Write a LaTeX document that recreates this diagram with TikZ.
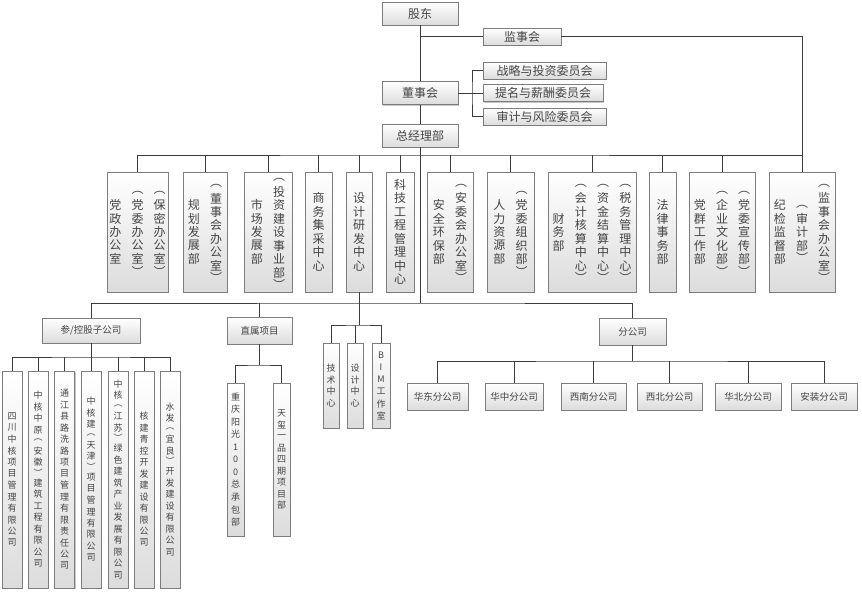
\documentclass[tikz,border=0pt]{standalone}
\usepackage{fontspec}
\setmainfont{Noto Sans CJK SC}
\usetikzlibrary{shadows}
\definecolor{oLine}{RGB}{60,60,60}
\definecolor{oBorder}{RGB}{125,125,125}
\definecolor{oText}{RGB}{68,68,68}
\definecolor{oShade}{RGB}{220,220,220}
\makeatletter
\def\vc@lp{︵}\def\vc@rp{︶}
\newcommand\vc@item[1]{\dimen@=#1\relax
  \ifx\vc@ch\vc@lp\dimen@=.8\dimen@\fi
  \ifx\vc@ch\vc@rp\dimen@=.8\dimen@\fi
  \vbox to\dimen@{\vss\hbox to 1.1em{\hss\vc@ch\hss}\vss}}
\newcommand\vcol[2][13.5pt]{$\vcenter{\offinterlineskip\@tfor\vc@ch:=#2\do{\vc@item{#1}}}$}
\makeatother
\newcommand\cgap{\hspace{9pt}}

\begin{document}
\begin{tikzpicture}[
  x=1pt,
  y=-1pt,
  every node/.style={text=oText, inner sep=0pt},
  orgbox/.style={
    draw=oBorder,
    line width=0.7pt,
    top color=white,
    bottom color=oShade,
    drop shadow={shadow xshift=1.3pt, shadow yshift=-1.3pt, fill=black, opacity=0.22},
    font=\fontsize{12}{14}\selectfont
  },
  deptbox/.style={orgbox, minimum height=120pt},
  smallbox/.style={orgbox, font=\fontsize{9.5}{11}\selectfont},
  slimbox/.style={orgbox, font=\fontsize{9}{11}\selectfont},
  link/.style={draw=oLine, line width=0.8pt}
]
  \useasboundingbox (0,0) rectangle (862,595);

  \node[orgbox, minimum width=76pt, minimum height=23pt] (gd) at (420,13.5) {股东};
  \node[orgbox, minimum width=78pt, minimum height=17pt] (jsh) at (522,36.5) {监事会};
  \node[orgbox, minimum width=76pt, minimum height=23pt] (dsh) at (420,93) {董事会};
  \node[orgbox, minimum width=123pt, minimum height=17pt] (c1) at (544.5,70.5) {战略与投资委员会};
  \node[orgbox, minimum width=120pt, minimum height=17pt] (c2) at (543,93) {提名与薪酬委员会};
  \node[orgbox, minimum width=123pt, minimum height=17pt] (c3) at (544.5,116.5) {审计与风险委员会};
  \node[orgbox, minimum width=76pt, minimum height=23pt] (gm) at (420,135.5) {总经理部};

  \node[deptbox, minimum width=61pt] (d1) at (137.5,232) {\vcol{党政办公室}\cgap\vcol{︵党委办公室︶}\cgap\vcol{︵保密办公室︶}};
  \node[deptbox, minimum width=44pt] (d2) at (205,232) {\vcol{规划发展部}\cgap\vcol{︵董事会办公室︶}};
  \node[deptbox, minimum width=48pt] (d3) at (268,232) {\vcol{市场发展部}\cgap\vcol{︵投资建设事业部︶}};
  \node[deptbox, minimum width=27pt] (d4) at (318.5,232) {\vcol{商务集采中心}};
  \node[deptbox, minimum width=26pt] (d5) at (359,232) {\vcol{设计研发中心}};
  \node[deptbox, minimum width=28pt] (d6) at (400,232) {\vcol{科技工程管理中心}};
  \node[deptbox, minimum width=46pt] (d7) at (450,232) {\vcol{安全环保部}\cgap\vcol{︵安委会办公室︶}};
  \node[deptbox, minimum width=47pt] (d8) at (510.5,232) {\vcol{人力资源部}\cgap\vcol{︵党委组织部︶}};
  \node[deptbox, minimum width=88pt] (d9) at (592,232) {\vcol{财务部}\cgap\vcol{︵会计核算中心︶}\cgap\vcol{︵资金结算中心︶}\cgap\vcol{︵税务管理中心︶}};
  \node[deptbox, minimum width=27pt] (d10) at (662.5,232) {\vcol{法律事务部}};
  \node[deptbox, minimum width=66pt] (d11) at (722,232) {\vcol{党群工作部}\cgap\vcol{︵企业文化部︶}\cgap\vcol{︵党委宣传部︶}};
  \node[deptbox, minimum width=66pt] (d12) at (802,232) {\vcol{纪检监督部}\cgap\vcol{︵审计部︶}\cgap\vcol{︵监事会办公室︶}};

  \node[smallbox, minimum width=98pt, minimum height=25pt] (sub) at (91,330.5) {参/控股子公司};
  \node[smallbox, minimum width=65pt, minimum height=27pt] (zs) at (259.5,330.5) {直属项目};
  \node[smallbox, minimum width=67pt, minimum height=27pt] (br) at (632.5,331.5) {分公司};

  \node[slimbox, minimum width=20pt, minimum height=217pt] (s1) at (12,479.5) {\vcol[11.5pt]{四川中核项目管理有限公司}};
  \node[slimbox, minimum width=20pt, minimum height=217pt] (s2) at (38,479.5) {\vcol[11.5pt]{中核中原︵安徽︶建筑工程有限公司}};
  \node[slimbox, minimum width=20pt, minimum height=217pt] (s3) at (64.5,479.5) {\vcol[11.5pt]{通江县路洗路项目管理有限责任公司}};
  \node[slimbox, minimum width=20pt, minimum height=217pt] (s4) at (91,479.5) {\vcol[11.5pt]{中核建︵天津︶项目管理有限公司}};
  \node[slimbox, minimum width=20pt, minimum height=217pt] (s5) at (118,479.5) {\vcol[11.5pt]{中核︵江苏︶绿色建筑产业发展有限公司}};
  \node[slimbox, minimum width=20pt, minimum height=217pt] (s6) at (144,479.5) {\vcol[11.5pt]{核建青控开发建设有限公司}};
  \node[slimbox, minimum width=20pt, minimum height=217pt] (s7) at (170,479.5) {\vcol[11.5pt]{水发︵宜良︶开发建设有限公司}};

  \node[slimbox, minimum width=17pt, minimum height=153pt] (p1) at (235.5,459.5) {\vcol[12.5pt]{重庆阳光100总承包部}};
  \node[slimbox, minimum width=17pt, minimum height=153pt] (p2) at (281.5,459.5) {\vcol[11.5pt]{天玺一品四期项目部}};

  \node[slimbox, minimum width=16pt, minimum height=85pt] (t1) at (331,385.5) {\vcol[11.7pt]{技术中心}};
  \node[slimbox, minimum width=16pt, minimum height=85pt] (t2) at (355,385.5) {\vcol[11.7pt]{设计中心}};
  \node[slimbox, minimum width=18pt, minimum height=85pt] (t3) at (381,385.5) {\vcol[12.2pt]{BIM工作室}};

  \node[smallbox, minimum width=61pt, minimum height=27pt] (b1) at (437.5,396.5) {华东分公司};
  \node[smallbox, minimum width=58pt, minimum height=27pt] (b2) at (514,396.5) {华中分公司};
  \node[smallbox, minimum width=65pt, minimum height=27pt] (b3) at (593.5,396.5) {西南分公司};
  \node[smallbox, minimum width=65pt, minimum height=27pt] (b4) at (669.5,396.5) {西北分公司};
  \node[smallbox, minimum width=66pt, minimum height=27pt] (b5) at (748,396.5) {华北分公司};
  \node[smallbox, minimum width=66pt, minimum height=27pt] (b6) at (824,396.5) {安装分公司};

  \coordinate (cbr) at (472,93);
  \coordinate (dbus) at (420,155);
  \coordinate (lbus) at (420,303);
  \coordinate (tbus) at (359,325);
  \coordinate (sbus) at (91,357);
  \coordinate (pbus) at (259.5,365);
  \coordinate (bbus) at (632.5,361);

  \draw[link] (gd) -- (dsh);
  \draw[link] (dsh) -- (gm);
  \draw[link] (gd.south |- jsh.west) -- (jsh.west);
  \draw[link] (jsh.east) -| (d12.north);
  \draw[link] (dsh.east) -- (cbr);
  \draw[link] (c1.west) -| (cbr) |- (c3.west);
  \draw[link] (c2.west) -- (cbr);

  \draw[link] (d1.north) |- (dbus) -| (d12.north);
  \foreach \d in {d2,d3,d4,d5,d6,d7,d8,d9,d10,d11}
    \draw[link] (\d.north) -- (\d.north |- dbus);

  \draw[link] (gm.south) -- (lbus);
  \draw[link] (sub.north) |- (lbus) -| (br.north);
  \draw[link] (zs.north) -- (zs.north |- lbus);

  \draw[link] (d5.south) -- (tbus);
  \draw[link] (t1.north) |- (tbus) -| (t3.north);
  \draw[link] (t2.north) -- (t2.north |- tbus);

  \draw[link] (sub.south) -- (sbus);
  \draw[link] (s1.north) |- (sbus) -| (s7.north);
  \foreach \s in {s2,s3,s4,s5,s6}
    \draw[link] (\s.north) -- (\s.north |- sbus);

  \draw[link] (zs.south) -- (pbus);
  \draw[link] (p1.north) |- (pbus) -| (p2.north);

  \draw[link] (br.south) -- (bbus);
  \draw[link] (b1.north) |- (bbus) -| (b6.north);
  \foreach \b in {b2,b3,b4,b5}
    \draw[link] (\b.north) -- (\b.north |- bbus);
\end{tikzpicture}
\end{document}
